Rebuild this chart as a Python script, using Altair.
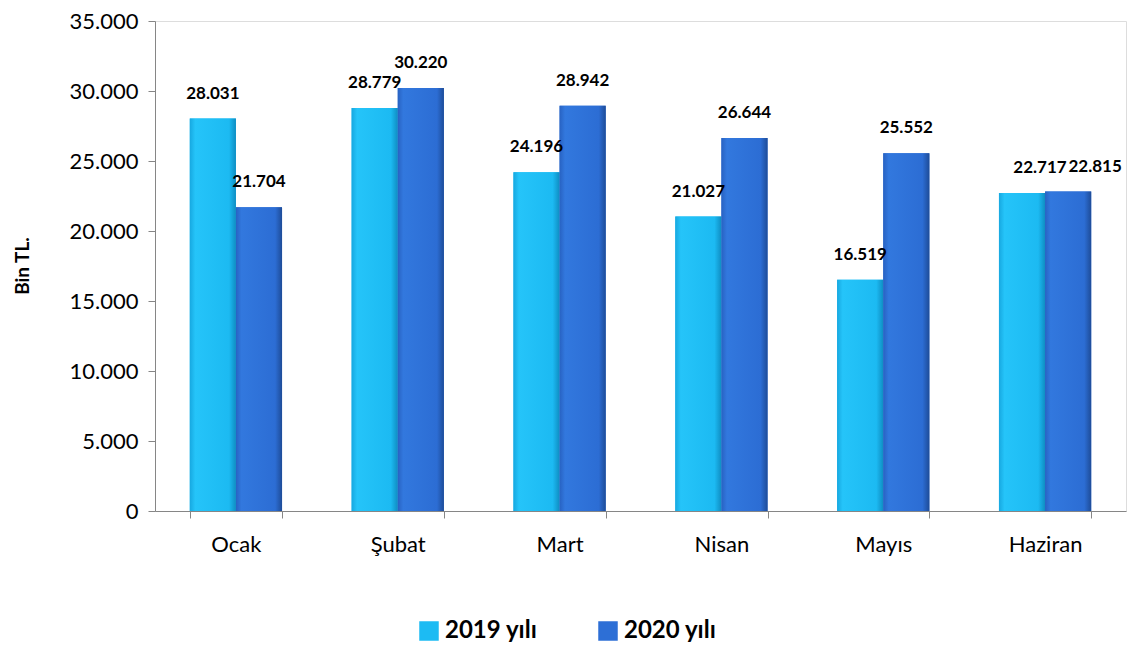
import altair as alt
import pandas as pd

months = ["Ocak", "Şubat", "Mart", "Nisan", "Mayıs", "Haziran"]
series = ["2019 yılı", "2020 yılı"]
v2019 = [28031, 28779, 24196, 21027, 16519, 22717]
v2020 = [21704, 30220, 28942, 26644, 25552, 22815]

rows = []
for m, a, b in zip(months, v2019, v2020):
    rows.append({"ay": m, "yil": series[0], "deger": a})
    rows.append({"ay": m, "yil": series[1], "deger": b})
df = pd.DataFrame(rows)

FONT = "Lato"
colors = ["#1CBBF3", "#2D6FD6"]
grads = [
    [("#17A8E0", 0.0), ("#25C4F9", 0.12), ("#1CBAF2", 0.85), ("#0F8DC2", 1.0)],
    [("#2862C2", 0.0), ("#3278DE", 0.12), ("#2C6DD4", 0.85), ("#1E4C98", 1.0)],
]

base = alt.Chart(df).encode(
    x=alt.X("ay:N", sort=months, title=None,
            scale=alt.Scale(paddingInner=0.43, paddingOuter=0.215),
            axis=alt.Axis(labelAngle=0, tickBand="extent", labelPadding=16)),
    xOffset=alt.XOffset("yil:N", sort=series, scale=alt.Scale(paddingInner=0, paddingOuter=0)),
    y=alt.Y("deger:Q", title=None,
            scale=alt.Scale(domain=[0, 35000], nice=False),
            axis=alt.Axis(values=[0, 5000, 10000, 15000, 20000, 25000, 30000, 35000],
                          labelExpr="replace(format(datum.value, ','), ',', '.')",
                          labelPadding=10)),
)

bars = base.mark_bar().encode(
    color=alt.Color("yil:N", sort=series, title=None,
                    scale=alt.Scale(domain=series, range=colors),
                    legend=alt.Legend(orient="none", legendX=262, legendY=598, direction="horizontal",
                                      labelFontSize=24, labelFont=FONT, labelFontWeight="bold",
                                      labelColor="#000", symbolType="square", symbolSize=380,
                                      symbolStrokeWidth=0, columnPadding=58, labelOffset=4,
                                      labelLimit=300)),
)

grad_layers = []
for s, stops in zip(series, grads):
    g = alt.Gradient(gradient="linear", x1=0, x2=1, y1=0, y2=0,
                     stops=[alt.GradientStop(color=c, offset=o) for c, o in stops])
    grad_layers.append(
        base.transform_filter(alt.datum.yil == s).mark_bar(color=g)
    )

lbl_expr = "replace(format(datum.deger, ','), ',', '.')"
text_style = dict(baseline="bottom", fontSize=17, fontWeight="bold", font=FONT, color="#000")
labels = base.transform_filter(alt.datum.ay != "Haziran").transform_calculate(
    lbl=lbl_expr
).mark_text(dy=-16, **text_style).encode(text="lbl:N")
labels_h19 = base.transform_filter(
    (alt.datum.ay == "Haziran") & (alt.datum.yil == series[0])
).transform_calculate(lbl=lbl_expr).mark_text(dy=-16, dx=18, **text_style).encode(text="lbl:N")
labels_h20 = base.transform_filter(
    (alt.datum.ay == "Haziran") & (alt.datum.yil == series[1])
).transform_calculate(lbl=lbl_expr).mark_text(dy=-16, dx=27, **text_style).encode(text="lbl:N")

chart = alt.layer(bars, *grad_layers, labels, labels_h19, labels_h20).properties(
    width=971, height=490,
    title=alt.TitleParams(text="Bin TL.", orient="left", anchor="middle", fontSize=19,
                          font=FONT, fontWeight="bold", color="#000", offset=36)
).configure_view(stroke=None).configure(
    padding={"left": 6, "top": 2, "right": 3, "bottom": 5}
).configure_axis(
    labelFont=FONT, labelFontSize=22, labelColor="#000",
    domainColor="#868686", tickColor="#868686", tickSize=7, grid=False
)

chart.save("out.html", embed_options={"renderer": "svg", "actions": False})
